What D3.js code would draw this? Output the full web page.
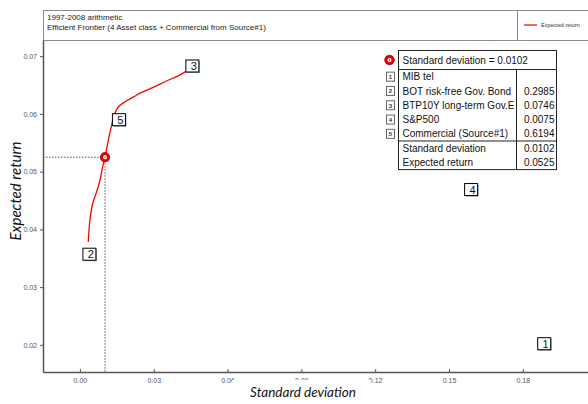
<!DOCTYPE html>
<html>
<head>
<meta charset="utf-8">
<script src="https://cdn.jsdelivr.net/npm/d3@7"></script>
<style>
  html, body { margin: 0; padding: 0; background: #fff; }
  svg { display: block; }
</style>
</head>
<body>
<svg id="chart" width="588" height="404"></svg>
<script>
// Efficient frontier: standard deviation vs expected return
const frontierSD  = [0.00339, 0.00407, 0.00515, 0.00678, 0.00813, 0.00921, 0.0102, 0.01152, 0.01287, 0.01423, 0.01558, 0.01789, 0.02168, 0.02439, 0.02981, 0.03523, 0.03997, 0.04336];
const frontierRet = [0.0378, 0.0416, 0.0444, 0.0465, 0.0485, 0.0508, 0.0525, 0.0554, 0.0580, 0.0601, 0.0612, 0.0620, 0.0629, 0.0636, 0.0646, 0.0657, 0.0666, 0.0674];

// Asset classes (label positions in risk/return space)
const assetIds   = ["1", "2", "3", "4", "5"];
const assetNames = ["MIB tel", "BOT risk-free Gov. Bond", "BTP10Y long-term Gov.E", "S&P500", "Commercial (Source#1)"];
const assetSD    = [0.1887, 0.00386, 0.0457, 0.159, 0.01585];
const assetRet   = [0.0202, 0.0357, 0.0683, 0.0469, 0.0590];
const weights    = ["", "0.2985", "0.0746", "0.0075", "0.6194"];

// Selected portfolio
const selSD = 0.0102;
const selRet = 0.0525;

const xTicks = [0.00, 0.03, 0.06, 0.09, 0.12, 0.15, 0.18];
const yTicks = [0.02, 0.03, 0.04, 0.05, 0.06, 0.07];

const svg = d3.select("#chart");
const plotL = 43, plotR = 588, plotT = 40, plotB = 372;

const x = d3.scaleLinear().domain([-0.015, 0.2065]).range([plotL, plotR]);
const y = d3.scaleLinear().domain([0.0153, 0.0728]).range([plotB, plotT]);

// Header frame
const frameCol = "#8a8a8a";
svg.append("line").attr("x1", plotL).attr("x2", 588).attr("y1", 10.5).attr("y2", 10.5).attr("stroke", frameCol);
svg.append("line").attr("x1", plotL).attr("x2", 588).attr("y1", 40.5).attr("y2", 40.5).attr("stroke", frameCol);
svg.append("line").attr("x1", 517.5).attr("x2", 517.5).attr("y1", 10).attr("y2", 40).attr("stroke", frameCol);
svg.append("line").attr("x1", plotL + 0.5).attr("x2", plotL + 0.5).attr("y1", 10).attr("y2", 40).attr("stroke", frameCol);

svg.append("text").attr("x", 47).attr("y", 19.5)
  .attr("font-family", "Liberation Sans, Arial, sans-serif").attr("font-size", 8).attr("fill", "#222")
  .text("1997-2008 arithmetic");
svg.append("text").attr("x", 47).attr("y", 29.5)
  .attr("font-family", "Liberation Sans, Arial, sans-serif").attr("font-size", 8).attr("fill", "#222")
  .text("Efficient Frontier (4 Asset class + Commercial from Source#1)");

// Legend in header
svg.append("line").attr("x1", 524).attr("x2", 537).attr("y1", 25).attr("y2", 25)
  .attr("stroke", "#e00").attr("stroke-width", 1.2);
svg.append("text").attr("x", 541).attr("y", 27)
  .attr("font-family", "Liberation Sans, Arial, sans-serif").attr("font-size", 5.5).attr("fill", "#333")
  .text("Expected return");

// Axes
const tickCol = "#505766";
const yAxis = svg.append("g").attr("transform", `translate(${plotL},0)`)
  .call(d3.axisLeft(y).tickValues(yTicks).tickFormat(d3.format(".2f")).tickSizeInner(3).tickSizeOuter(0).tickPadding(3));
const xAxis = svg.append("g").attr("transform", `translate(0,${plotB})`)
  .call(d3.axisBottom(x).tickValues(xTicks).tickFormat(d3.format(".2f")).tickSizeInner(-3).tickSizeOuter(0).tickPadding(6));
[yAxis, xAxis].forEach(g => {
  g.select(".domain").attr("stroke", "#555").attr("stroke-width", 1.5);
  g.selectAll(".tick line").attr("stroke", "#555");
  g.selectAll(".tick text").attr("fill", tickCol)
    .attr("font-family", "Liberation Sans, Arial, sans-serif").attr("font-size", 7);
});

// Dotted guides to the selected portfolio
svg.append("line").attr("x1", plotL).attr("x2", x(selSD)).attr("y1", y(selRet)).attr("y2", y(selRet))
  .attr("stroke", "#555").attr("stroke-dasharray", "1.5,1.5");
svg.append("line").attr("x1", x(selSD)).attr("x2", x(selSD)).attr("y1", y(selRet)).attr("y2", plotB)
  .attr("stroke", "#555").attr("stroke-dasharray", "1.5,1.5");

// Frontier curve
const pts = frontierSD.map((s, i) => [s, frontierRet[i]]);
svg.append("path").datum(pts)
  .attr("d", d3.line().x(d => x(d[0])).y(d => y(d[1])).curve(d3.curveCatmullRom))
  .attr("fill", "none").attr("stroke", "#f00").attr("stroke-width", 1.3);

// Selected portfolio marker
function target(g, cx, cy, r) {
  g.append("circle").attr("cx", cx).attr("cy", cy).attr("r", r).attr("fill", "#e00").attr("stroke", "#900").attr("stroke-width", 0.8);
  g.append("circle").attr("cx", cx).attr("cy", cy).attr("r", r * 0.42).attr("fill", "#fff");
  g.append("circle").attr("cx", cx).attr("cy", cy).attr("r", r * 0.15).attr("fill", "#c00");
}
target(svg, x(selSD), y(selRet), 4.7);

// Asset labels
assetIds.forEach((id, i) => {
  const cx = x(assetSD[i]), cy = y(assetRet[i]);
  const g = svg.append("g");
  g.append("rect").attr("x", cx - 6.5 + 1).attr("y", cy - 6 + 1).attr("width", 13).attr("height", 12).attr("fill", "#999");
  g.append("rect").attr("x", cx - 6.5).attr("y", cy - 6).attr("width", 13).attr("height", 12)
    .attr("fill", "#fff").attr("stroke", "#000").attr("stroke-width", 1);
  g.append("text").attr("x", cx + 4.5).attr("y", cy + 4).attr("text-anchor", "end")
    .attr("font-family", "Liberation Sans, Arial, sans-serif").attr("font-size", 11).attr("fill", "#111")
    .text(id);
});

// Axis titles
svg.append("rect").attr("x", 232).attr("y", 380).attr("width", 139).attr("height", 24).attr("fill", "#fff");
svg.append("text").attr("x", 303).attr("y", 397).attr("text-anchor", "middle")
  .attr("font-family", "Lato, Open Sans, sans-serif").attr("font-style", "italic").attr("font-size", 13.5).attr("fill", "#111")
  .text("Standard deviation");
svg.append("text").attr("transform", "translate(21,191) rotate(-90)").attr("text-anchor", "middle")
  .attr("font-family", "Lato, Open Sans, sans-serif").attr("font-style", "italic").attr("font-size", 15).attr("fill", "#111")
  .text("Expected return");

// Portfolio composition table
const tf = "Liberation Sans, Arial, sans-serif";
const tx0 = 398.5, tx1 = 516.5, tx2 = 556.5;
const rowH = 14.3, ty0 = 50.5, ty1 = 69.5;
const tbl = svg.append("g").attr("font-family", tf).attr("font-size", 10).attr("fill", "#111");
tbl.append("rect").attr("x", tx0).attr("y", ty0).attr("width", tx2 - tx0).attr("height", ty1 - ty0)
  .attr("fill", "#fff").attr("stroke", "#222");
tbl.append("text").attr("x", tx0 + 4).attr("y", ty0 + 13.5).text("Standard deviation = " + selSD.toFixed(4));
target(tbl, 389.5, 60, 4.8);

const rows = assetNames.map((n, i) => ({ id: assetIds[i], name: n, val: weights[i] }));
const tyEnd = ty1 + rowH * 7;
tbl.append("rect").attr("x", tx0).attr("y", ty1).attr("width", tx2 - tx0).attr("height", tyEnd - ty1)
  .attr("fill", "#fff").attr("stroke", "#222");
tbl.append("line").attr("x1", tx1).attr("x2", tx1).attr("y1", ty1).attr("y2", tyEnd).attr("stroke", "#222");
tbl.append("line").attr("x1", tx0).attr("x2", tx2).attr("y1", ty1 + rowH * 5).attr("y2", ty1 + rowH * 5).attr("stroke", "#222");

rows.forEach((r, i) => {
  const cy = ty1 + rowH * (i + 0.5);
  tbl.append("text").attr("x", tx0 + 4).attr("y", cy + 3.6).text(r.name);
  tbl.append("text").attr("x", tx2 - 2).attr("y", cy + 3.6).attr("text-anchor", "end").text(r.val);
  tbl.append("rect").attr("x", 386.5).attr("y", cy - 4.5).attr("width", 8).attr("height", 9)
    .attr("fill", "#fff").attr("stroke", "#666");
  tbl.append("text").attr("x", 390.5).attr("y", cy + 2.3).attr("text-anchor", "middle")
    .attr("font-size", 6).attr("font-weight", "bold").attr("fill", "#333").text(r.id);
});
const summary = [["Standard deviation", selSD.toFixed(4)], ["Expected return", selRet.toFixed(4)]];
summary.forEach((s, j) => {
  const cy = ty1 + rowH * (5 + j + 0.5);
  tbl.append("text").attr("x", tx0 + 4).attr("y", cy + 3.6).text(s[0]);
  tbl.append("text").attr("x", tx2 - 2).attr("y", cy + 3.6).attr("text-anchor", "end").text(s[1]);
});
</script>
</body>
</html>
